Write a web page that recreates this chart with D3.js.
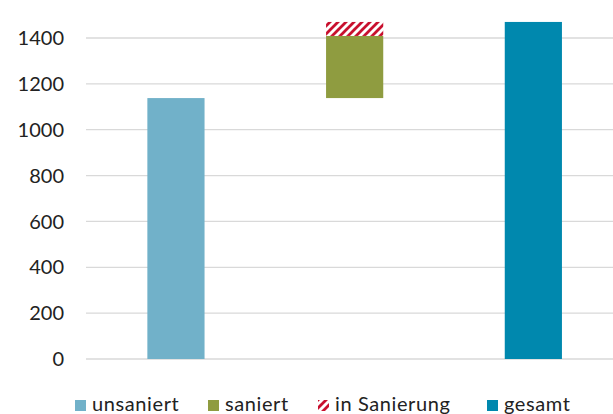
<!DOCTYPE html>
<meta charset="utf-8">
<style>
  body { margin: 0; background: #fff; }
  text { font-family: Lato, "Open Sans", sans-serif; fill: #222; }
</style>
<body>
<div id="chart"></div>
<script src="https://cdnjs.cloudflare.com/ajax/libs/d3/7.8.5/d3.min.js"></script>
<script>
// waterfall data
var categories = ["unsaniert", "saniert", "gesamt"];
var unsaniert = 1138;
var saniert = 271;
var inSanierung = 61;
var gesamt = 1470;
var yTicks = [0, 200, 400, 600, 800, 1000, 1200, 1400];
var legendLabels = ["unsaniert", "saniert", "in Sanierung", "gesamt"];

var w = 613, h = 414;
var colors = {unsaniert: "#71b1c9", saniert: "#8f9c40", hatch: "#c8102e", gesamt: "#0088ae"};

var svg = d3.select("#chart").append("svg")
    .attr("width", w)
    .attr("height", h);

var defs = svg.append("defs");
var pat = defs.append("pattern")
    .attr("id", "hatch")
    .attr("patternUnits", "userSpaceOnUse")
    .attr("width", 8)
    .attr("height", 8);
pat.append("rect").attr("width", 8).attr("height", 8).attr("fill", "#fff");
pat.append("path")
    .attr("d", "M0,8 L8,0 M-2,2 L2,-2 M6,10 L10,6")
    .attr("stroke", colors.hatch)
    .attr("stroke-width", 2.8);

var x = d3.scaleBand().domain(categories).range([86.6, 622.7]).paddingInner(0.68).paddingOuter(0.34);
var y = d3.scaleLinear().domain([0, 1400]).range([359, 38]);

// gridlines
svg.append("g").selectAll("line")
    .data(yTicks)
    .enter().append("line")
    .attr("x1", 86)
    .attr("x2", w)
    .attr("y1", function(d) { return y(d); })
    .attr("y2", function(d) { return y(d); })
    .attr("stroke", "#d9d9d9")
    .attr("stroke-width", 1.3);

// tick labels
svg.append("g").selectAll("text")
    .data(yTicks)
    .enter().append("text")
    .attr("x", 64)
    .attr("y", function(d) { return y(d); })
    .attr("dy", "0.36em")
    .attr("text-anchor", "end")
    .attr("font-size", 20)
    .text(function(d) { return d; });

var segments = [
  {cat: "unsaniert", y0: 0, y1: unsaniert, fill: colors.unsaniert},
  {cat: "saniert", y0: unsaniert, y1: unsaniert + saniert, fill: colors.saniert},
  {cat: "saniert", y0: unsaniert + saniert, y1: unsaniert + saniert + inSanierung, fill: "url(#hatch)"},
  {cat: "gesamt", y0: 0, y1: gesamt, fill: colors.gesamt}
];

svg.append("g").selectAll("rect")
    .data(segments)
    .enter().append("rect")
    .attr("x", function(d) { return x(d.cat); })
    .attr("width", x.bandwidth())
    .attr("y", function(d) { return y(d.y1); })
    .attr("height", function(d) { return y(d.y0) - y(d.y1); })
    .attr("fill", function(d) { return d.fill; });

// legend
var legendX = [75, 208, 318, 487];
var legendFill = [colors.unsaniert, colors.saniert, "url(#hatch)", colors.gesamt];
var lg = svg.append("g").selectAll("g")
    .data(legendLabels)
    .enter().append("g")
    .attr("transform", function(d, i) { return "translate(" + legendX[i] + ",400)"; });
lg.append("rect")
    .attr("width", 11)
    .attr("height", 11)
    .attr("fill", function(d, i) { return legendFill[i]; });
lg.append("text")
    .attr("x", 17)
    .attr("y", 11)
    .attr("font-size", 20)
    .attr("letter-spacing", 0.6)
    .text(function(d) { return d; });
</script>
</body>
